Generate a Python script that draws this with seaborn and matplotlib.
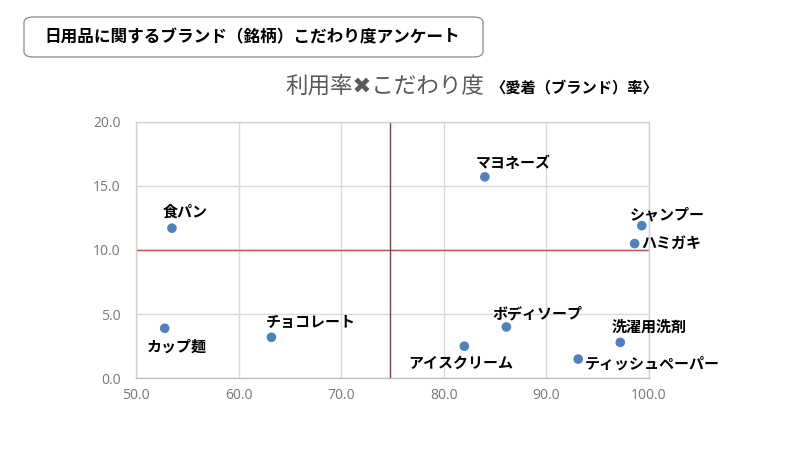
import matplotlib
matplotlib.use("Agg")
import matplotlib.pyplot as plt
import seaborn as sns
import pandas as pd
from matplotlib.patches import FancyBboxPatch

sns.set_theme(style="white")
plt.rcParams['font.family'] = ['Noto Sans CJK JP', 'DejaVu Sans']

items = ["食パン", "カップ麺", "チョコレート", "マヨネーズ", "シャンプー",
         "ハミガキ", "ボディソープ", "アイスクリーム", "洗濯用洗剤", "ティッシュペーパー"]
usage = [53.5, 52.8, 63.2, 84.0, 99.3, 98.6, 86.1, 82.0, 97.2, 93.1]
attach = [11.7, 3.9, 3.2, 15.7, 11.9, 10.5, 4.0, 2.5, 2.8, 1.5]
# label offsets in pixels (dx, dy)
offsets = [(13, 17), (12, -18), (39, 15), (28, 14), (25, 11),
           (37, 1), (31, 14), (-4, -17), (29, 16), (74, -5)]
x_ticks = [50, 60, 70, 80, 90, 100]
y_ticks = [0, 5, 10, 15, 20]
usage_mid = 74.8
attach_mid = 10.0

df = pd.DataFrame({"item": items, "usage": usage, "attach": attach})

fig = plt.figure(figsize=(8, 4.5), dpi=100)
ax = fig.add_axes([0.17, 0.1593, 0.64125, 0.5703])

ax.axhline(attach_mid, color="#c0504d", lw=1.0, zorder=1)
ax.axvline(usage_mid, color="#8b3a3a", lw=1.0, zorder=1)

sns.scatterplot(data=df, x="usage", y="attach", ax=ax, color="#4f81bd",
                s=48, edgecolor="none", zorder=3)

for name, xv, yv, (dx, dy) in zip(items, usage, attach, offsets):
    ax.annotate(name, (xv, yv), xytext=(dx, dy), textcoords="offset pixels",
                ha="center", va="center", fontsize=10.8, fontweight="bold",
                color="#000000")

ax.set_xlim(50, 100)
ax.set_ylim(0, 20)
ax.set_xticks(x_ticks)
ax.set_yticks(y_ticks)
ax.set_xticklabels([f"{v:.1f}" for v in x_ticks])
ax.set_yticklabels([f"{v:.1f}" for v in y_ticks])
ax.tick_params(axis="both", length=0, labelsize=10, colors="#767676")
for lbl in ax.get_xticklabels() + ax.get_yticklabels():
    lbl.set_family(["Open Sans", "DejaVu Sans"])
ax.tick_params(axis="x", pad=7)
ax.tick_params(axis="y", pad=11)
ax.grid(True, color="#d9d9d9", lw=1.0, zorder=0)
ax.set_axisbelow(True)
for s in ax.spines.values():
    s.set_color("#d0d0d0")
    s.set_linewidth(1.0)
ax.spines["bottom"].set_color("#bfbfbf")
ax.set_xlabel("")
ax.set_ylabel("")

# title box
box = FancyBboxPatch((24 / 800, 1 - 57 / 450), 459 / 800, 40 / 450,
                     boxstyle="round,pad=0,rounding_size=0.012",
                     transform=fig.transFigure, facecolor="white",
                     edgecolor="#8a8a8a", lw=0.9)
fig.patches.append(box)
fig.text(252 / 800, 1 - 37 / 450, "日用品に関するブランド（銘柄）こだわり度アンケート",
         ha="center", va="center", fontsize=12, fontweight="bold", color="#000000")

fig.text(285 / 800, 1 - 86 / 450, "利用率✖こだわり度", ha="left", va="center",
         fontsize=16.2, color="#595959")
fig.text(490 / 800, 1 - 87 / 450, "〈愛着（ブランド）率〉", ha="left", va="center",
         fontsize=11, fontweight="bold", color="#000000")

fig.savefig("out.png", dpi=100, facecolor="white")
